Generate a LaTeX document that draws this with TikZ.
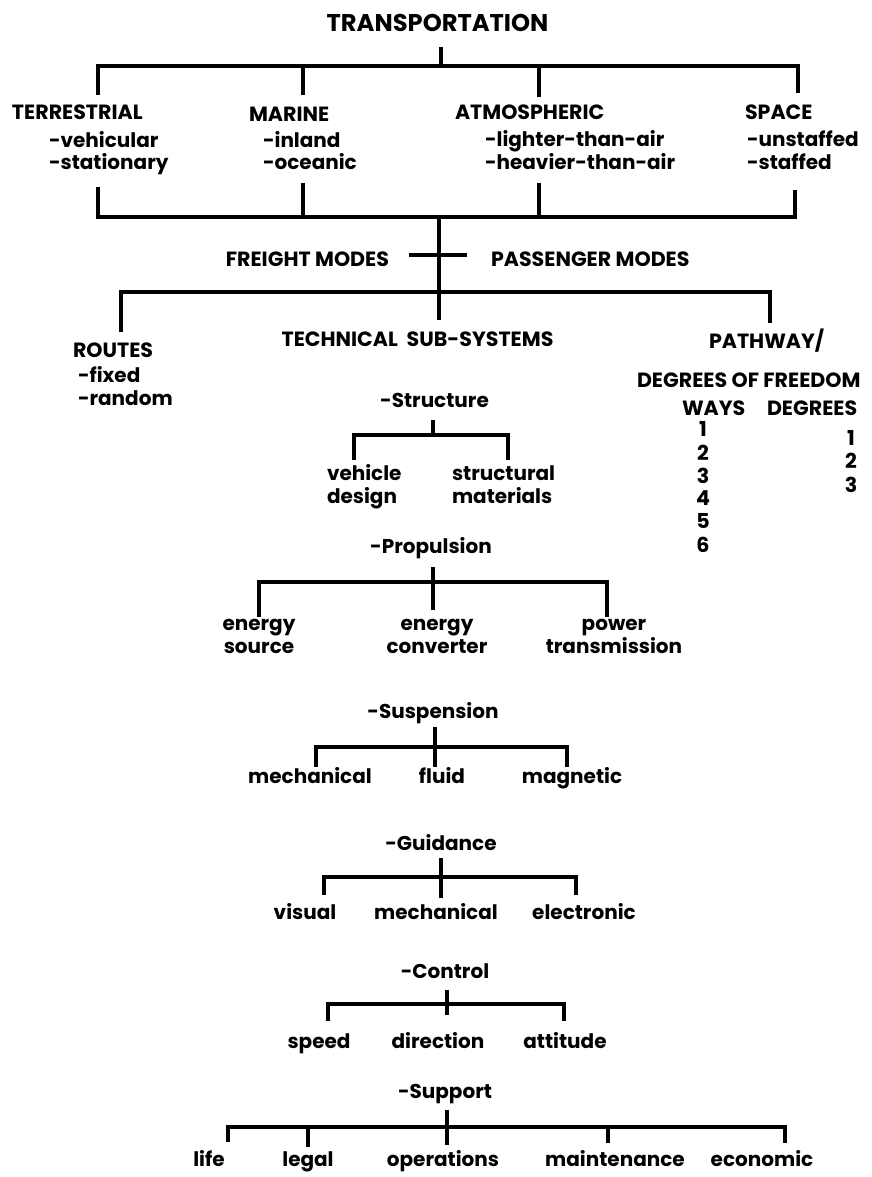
\documentclass[tikz,border=0pt]{standalone}
\usepackage{fontspec}
\setmainfont{Poppins}
\begin{document}
\begin{tikzpicture}[x=1pt,y=-1pt,
  lbl/.style={inner sep=0pt, outer sep=0pt, anchor=base, font=\fontsize{20}{24}\selectfont\bfseries},
  lblw/.style={lbl, anchor=base west},
  uc/.style={inner sep=0pt, outer sep=0pt, anchor=base, font=\fontsize{20.6}{24}\selectfont\bfseries},
  ucw/.style={uc, anchor=base west},
  br/.style={line width=4.2pt, line join=miter, line cap=butt}]
\fill[white] (0,0) rectangle (872,1177);
\useasboundingbox (0,0) rectangle (872,1177);

% ---------- top level ----------
\node[uc, font=\fontsize{24.2}{28}\selectfont\bfseries] (trans) at (437.5,32) {TRANSPORTATION};

\node[ucw]  (terr)  at (12,120)  {TERRESTRIAL};
\node[lblw] (veh)   at (49,148)  {-vehicular};
\node[lblw] (stat)  at (49,170)  {-stationary};
\node[ucw]  (mar)   at (249,122) {MARINE};
\node[lblw] (inl)   at (263,148) {-inland};
\node[lblw] (oce)   at (263,170) {-oceanic};
\node[ucw]  (atm)   at (455,120) {ATMOSPHERIC};
\node[lblw] (lta)   at (485,147) {-lighter-than-air};
\node[lblw] (hta)   at (485,170) {-heavier-than-air};
\node[ucw]  (spc)   at (745,120) {SPACE};
\node[lblw] (unst)  at (747,147) {-unstaffed};
\node[lblw] (staf)  at (747,170) {-staffed};

\coordinate (tS) at (441,47);  \coordinate (tJ) at (441,66);
\coordinate (tB1) at (98,66);  \coordinate (tD1) at (98,95);
\coordinate (tB2) at (303,66); \coordinate (tD2) at (303,95);
\coordinate (tB3) at (539,66); \coordinate (tD3) at (539,97);
\coordinate (tB4) at (798,66); \coordinate (tD4) at (798,93);
\draw[br] (tS) -- (tJ);
\draw[br] (tD1) -- (tB1) -- (tB4) -- (tD4);
\draw[br] (tB2) -- (tD2);
\draw[br] (tB3) -- (tD3);

\coordinate (uD1) at (98,187);  \coordinate (uB1) at (98,217);
\coordinate (uD2) at (303,183); \coordinate (uB2) at (303,217);
\coordinate (uD3) at (539,183); \coordinate (uB3) at (539,217);
\coordinate (uD4) at (795,190); \coordinate (uB4) at (795,217);
\coordinate (uJ) at (439,217);  \coordinate (mS) at (439,320);
\draw[br] (uD1) -- (uB1) -- (uB4) -- (uD4);
\draw[br] (uD2) -- (uB2);
\draw[br] (uD3) -- (uB3);
\draw[br] (uJ) -- (mS);

% ---------- modes ----------
\node[uc, anchor=base east] (frt) at (389,266) {FREIGHT MODES};
\node[ucw] (pas) at (491,266) {PASSENGER MODES};
\coordinate (fL) at (409,255); \coordinate (fR) at (467,255);
\draw[br] (fL) -- (fR);

\coordinate (mB1) at (121,292); \coordinate (mD1) at (121,332);
\coordinate (mB3) at (770,292); \coordinate (mD3) at (770,323);
\draw[br] (mD1) -- (mB1) -- (mB3) -- (mD3);

% ---------- routes ----------
\node[ucw]  (rts) at (73,357) {ROUTES};
\node[lblw] (fix) at (78,382) {-fixed};
\node[lblw] (rnd) at (78,405) {-random};

% ---------- technical sub-systems ----------
\node[uc] (tech) at (417.5,346) {TECHNICAL\ \ SUB-SYSTEMS};

% ---------- pathway ----------
\node[ucw] (path) at (709,348) {PATHWAY/};
\node[ucw] (dof)  at (637,387) {DEGREES OF FREEDOM};
\node[ucw] (ways) at (682,415) {WAYS};
\node[ucw] (degs) at (767,415) {DEGREES};
\foreach \n/\y in {1/436,2/460,3/483,4/505,5/528,6/552}
  \node[uc] (w\n) at (703,\y) {\n};
\foreach \n/\y in {1/445,2/468,3/492}
  \node[uc] (g\n) at (851,\y) {\n};

% ---------- structure ----------
\node[lbl]  (str) at (434.5,407) {-Structure};
\node[lblw] (vd1) at (327,480) {vehicle};
\node[lblw] (vd2) at (327,503) {design};
\node[lblw] (sm1) at (452,480) {structural};
\node[lblw] (sm2) at (452,503) {materials};
\coordinate (sS) at (433,420); \coordinate (sJ) at (433,435);
\coordinate (sB1) at (354,435); \coordinate (sD1) at (354,460);
\coordinate (sB2) at (508,435); \coordinate (sD2) at (508,460);
\draw[br] (sS) -- (sJ);
\draw[br] (sD1) -- (sB1) -- (sB2) -- (sD2);

% ---------- propulsion ----------
\node[lbl] (pro) at (431,553) {-Propulsion};
\node[lbl] (es1) at (259,630) {energy};
\node[lbl] (es2) at (259,653) {source};
\node[lbl] (ec1) at (437,630) {energy};
\node[lbl] (ec2) at (437,653) {converter};
\node[lbl] (pt1) at (614,630) {power};
\node[lbl] (pt2) at (614,653) {transmission};
\coordinate (pS) at (433,567); \coordinate (pJ) at (433,610);
\coordinate (pB1) at (259,582); \coordinate (pD1) at (259,617);
\coordinate (pB3) at (607,582); \coordinate (pD3) at (607,617);
\draw[br] (pS) -- (pJ);
\draw[br] (pD1) -- (pB1) -- (pB3) -- (pD3);

% ---------- suspension ----------
\node[lbl] (sus) at (433,718) {-Suspension};
\node[lbl] (sme) at (310,783) {mechanical};
\node[lbl] (sfl) at (442,783) {fluid};
\node[lbl] (sma) at (572,783) {magnetic};
\coordinate (qS) at (435,727); \coordinate (qJ) at (435,767);
\coordinate (qB1) at (316,747); \coordinate (qD1) at (316,767);
\coordinate (qB3) at (567,747); \coordinate (qD3) at (567,767);
\draw[br] (qS) -- (qJ);
\draw[br] (qD1) -- (qB1) -- (qB3) -- (qD3);

% ---------- guidance ----------
\node[lbl] (gui) at (441,850) {-Guidance};
\node[lbl] (gvi) at (305,919) {visual};
\node[lbl] (gme) at (436,919) {mechanical};
\node[lbl] (gel) at (584,919) {electronic};
\coordinate (gS) at (441,858); \coordinate (gJ) at (441,898);
\coordinate (gB1) at (324,877); \coordinate (gD1) at (324,895);
\coordinate (gB3) at (576,877); \coordinate (gD3) at (576,895);
\draw[br] (gS) -- (gJ);
\draw[br] (gD1) -- (gB1) -- (gB3) -- (gD3);

% ---------- control ----------
\node[lbl] (con) at (445,978) {-Control};
\node[lbl] (csp) at (319,1048) {speed};
\node[lbl] (cdi) at (438,1048) {direction};
\node[lbl] (cat) at (565,1048) {attitude};
\coordinate (cS) at (447,990); \coordinate (cJ) at (447,1015);
\coordinate (cB1) at (328,1004); \coordinate (cD1) at (328,1021);
\coordinate (cB3) at (564,1004); \coordinate (cD3) at (564,1021);
\draw[br] (cS) -- (cJ);
\draw[br] (cD1) -- (cB1) -- (cB3) -- (cD3);

% ---------- support ----------
\node[lbl] (sup) at (445,1098) {-Support};
\node[lbl] (xli) at (209,1166) {life};
\node[lbl] (xle) at (308,1166) {legal};
\node[lbl] (xop) at (443,1166) {operations};
\node[lbl] (xma) at (615,1166) {maintenance};
\node[lbl] (xec) at (762,1166) {economic};
\coordinate (xS) at (447,1110); \coordinate (xJ) at (447,1145);
\coordinate (xB1) at (228,1127); \coordinate (xD1) at (228,1142);
\coordinate (xB2) at (308,1127); \coordinate (xD2) at (308,1147);
\coordinate (xB4) at (608,1127); \coordinate (xD4) at (608,1143);
\coordinate (xB5) at (785,1127); \coordinate (xD5) at (785,1143);
\draw[br] (xS) -- (xJ);
\draw[br] (xD1) -- (xB1) -- (xB5) -- (xD5);
\draw[br] (xB2) -- (xD2);
\draw[br] (xB4) -- (xD4);
\end{tikzpicture}
\end{document}
